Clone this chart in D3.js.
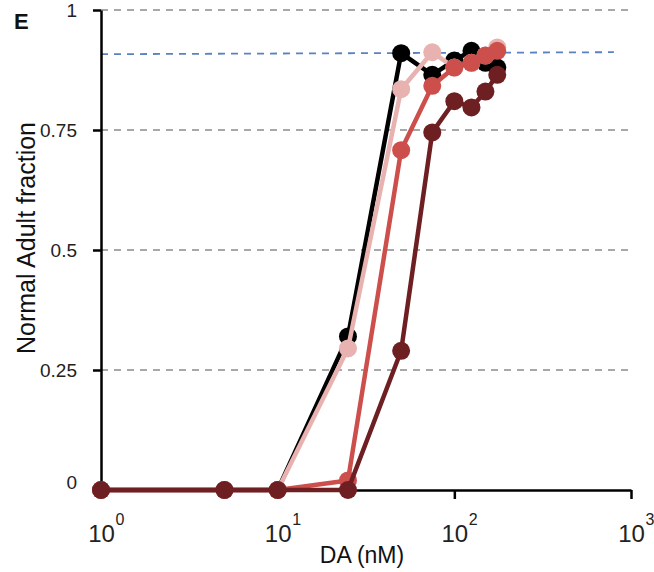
<!DOCTYPE html>
<html>
<head>
<meta charset="utf-8">
<script src="https://cdn.jsdelivr.net/npm/d3@7"></script>
<style>
  body { margin: 0; background: #fff; }
  text { font-family: Arial, "Liberation Sans", sans-serif; }
</style>
</head>
<body>
<div id="graph-container"></div>
<script>
// DA concentrations (nM)
const doses = [1, 5, 10, 25, 50, 75, 100, 125, 150, 175];

// Normal adult fraction for each series
const blackValues = [0, 0, 0, 0.32, 0.91, 0.865, 0.895, 0.915, 0.89, 0.88];
const pinkValues = [0, 0, 0, 0.295, 0.835, 0.912, 0.88, 0.89, 0.905, 0.922];
const redValues = [0, 0, 0, 0.02, 0.708, 0.842, 0.88, 0.89, 0.905, 0.915];
const maroonValues = [0, 0, 0, 0, 0.29, 0.745, 0.81, 0.797, 0.83, 0.865];

const seriesColors = ['#000000', '#e8b2b0', '#cc4f4c', '#6e1f22'];
const seriesList = [blackValues, pinkValues, redValues, maroonValues];

const yTicks = [0, 0.25, 0.5, 0.75, 1];
const yTickLabels = ['0', '0.25', '0.5', '0.75', '1'];
const xTicks = [1, 10, 100, 1000];
const referenceLevel = 0.91;

const width = 654;
const height = 572;
const margin = {top: 10, right: 23, bottom: 82, left: 101};

const svg = d3.select('#graph-container')
  .append('svg')
  .attr('width', width)
  .attr('height', height);

const xScale = d3.scaleLog()
  .domain([1, 1000])
  .range([margin.left, width - margin.right]);

const yScale = d3.scaleLinear()
  .domain([0, 1])
  .range([height - margin.bottom, margin.top]);

// Grid lines
svg.append('g')
  .selectAll('line')
  .data(yTicks.filter(d => d > 0))
  .join('line')
  .attr('x1', margin.left)
  .attr('x2', width - margin.right)
  .attr('y1', d => yScale(d))
  .attr('y2', d => yScale(d))
  .attr('stroke', '#8c8c8c')
  .attr('stroke-width', 1.6)
  .attr('stroke-dasharray', '7,6');

// Reference line
svg.append('line')
  .attr('x1', margin.left)
  .attr('x2', xScale(800))
  .attr('y1', yScale(referenceLevel) + 1)
  .attr('y2', yScale(referenceLevel) - 1)
  .attr('stroke', '#5a82c0')
  .attr('stroke-width', 1.8)
  .attr('stroke-dasharray', '7,6');

// Y Axis
const yAxis = d3.axisLeft(yScale)
  .tickValues(yTicks)
  .tickFormat((d, i) => yTickLabels[i])
  .tickSizeInner(8)
  .tickSizeOuter(0)
  .tickPadding(16);

const yAxisG = svg.append('g')
  .attr('transform', `translate(${margin.left},0)`)
  .call(yAxis);
yAxisG.select('.domain').attr('stroke', '#000').attr('stroke-width', 2.5);
yAxisG.selectAll('.tick line').attr('stroke', '#000').attr('stroke-width', 2.5);
yAxisG.selectAll('.tick text')
  .attr('font-size', 19)
  .attr('fill', '#222')
  .attr('font-family', 'Arial, "Liberation Sans", sans-serif');
yAxisG.selectAll('.tick')
  .filter(d => d === 0)
  .select('text')
  .attr('dy', '-0.1em')
  .attr('x', -24);

// X Axis
const xAxis = d3.axisBottom(xScale)
  .tickValues(xTicks)
  .tickFormat('')
  .tickSizeInner(-8)
  .tickSizeOuter(0);

const xAxisG = svg.append('g')
  .attr('transform', `translate(0,${yScale(0)})`)
  .call(xAxis);
xAxisG.select('.domain').attr('stroke', '#000').attr('stroke-width', 2.5);
xAxisG.selectAll('.tick line')
  .attr('stroke', '#000')
  .attr('stroke-width', 2.5)
  .attr('y1', 0)
  .attr('y2', 9);

// "10" centred on the tick, exponent to its right
xAxisG.selectAll('.tick')
  .append('text')
  .attr('y', 52)
  .attr('fill', '#222')
  .attr('font-size', 24)
  .attr('text-anchor', 'middle')
  .text('10');
xAxisG.selectAll('.tick')
  .append('text')
  .attr('x', 14)
  .attr('y', 35)
  .attr('fill', '#222')
  .attr('font-size', 16)
  .attr('text-anchor', 'start')
  .text(d => Math.round(Math.log10(d)));

// Axis titles
svg.append('text')
  .attr('x', 362)
  .attr('y', 563)
  .attr('text-anchor', 'middle')
  .attr('font-size', 23)
  .attr('fill', '#111')
  .text('DA (nM)');

svg.append('text')
  .attr('transform', `translate(35,238) rotate(-90)`)
  .attr('text-anchor', 'middle')
  .attr('font-size', 25)
  .attr('fill', '#111')
  .text('Normal Adult fraction');

svg.append('text')
  .attr('x', 14)
  .attr('y', 29)
  .attr('font-size', 22)
  .attr('font-weight', 'bold')
  .attr('fill', '#111')
  .text('E');

// Graph lines
const lineFunction = d3.line()
  .x(d => xScale(d.x))
  .y(d => yScale(d.y));

seriesList.forEach((values, i) => {
  const points = doses.map((x, j) => ({x: x, y: values[j]}));
  const g = svg.append('g');
  g.append('path')
    .attr('d', lineFunction(points))
    .attr('stroke', seriesColors[i])
    .attr('stroke-width', 4.5)
    .attr('stroke-linejoin', 'round')
    .attr('fill', 'none');
  g.selectAll('circle')
    .data(points)
    .join('circle')
    .attr('cx', d => xScale(d.x))
    .attr('cy', d => yScale(d.y))
    .attr('r', 9)
    .attr('fill', seriesColors[i]);
});
</script>
</body>
</html>
